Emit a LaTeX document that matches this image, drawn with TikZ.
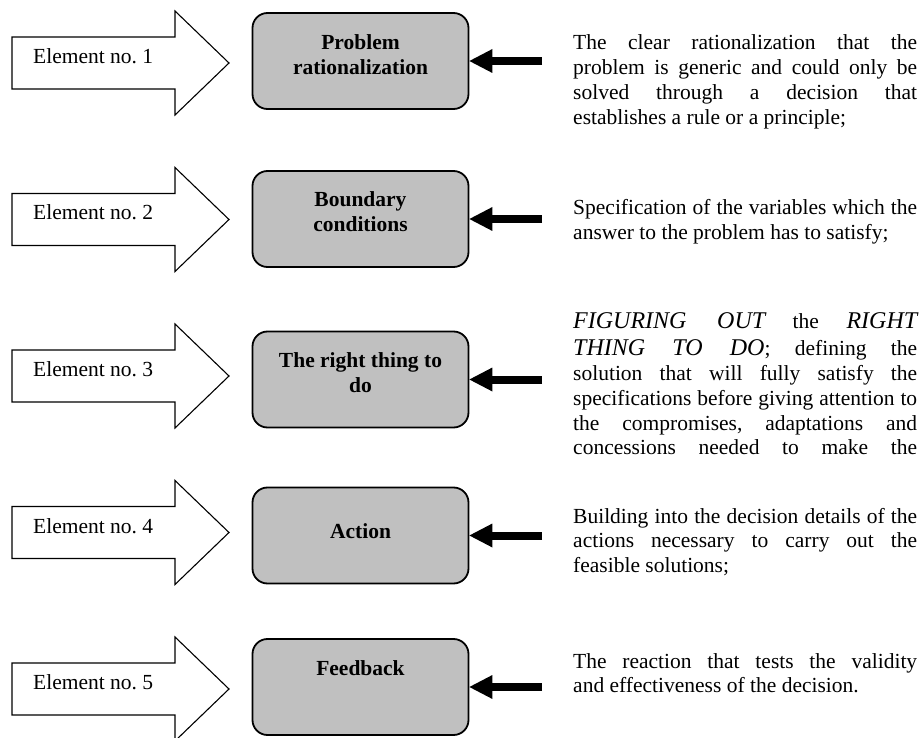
\documentclass[tikz,border=0pt]{standalone}
\usepackage{fontspec}
\setmainfont{Liberation Serif}
\usetikzlibrary{arrows.meta}
\definecolor{boxgray}{RGB}{192,192,192}
\frenchspacing
\newcommand{\jline}[1]{\makebox[344pt][s]{#1}}
\newcommand{\lastline}[1]{\makebox[344pt][l]{#1}}
\newcommand{\bigit}[1]{{\fontsize{24}{28}\selectfont\itshape #1}}
\newcommand{\boxlines}[2]{\parbox[c][96pt][t]{210pt}{\centering\rule{0pt}{#1}#2\par}}
\newcommand{\desctext}[1]{\parbox[t]{344pt}{\fontsize{21.5}{24.7}\selectfont #1}}
\begin{document}
\begin{tikzpicture}[x=1pt,y=-1pt,
  blockarrow/.style={draw, line width=1.1pt, fill=white, line join=miter},
  eltext/.style={anchor=base west, inner sep=0pt, font=\fontsize{21.5}{24.7}\selectfont},
  stepbox/.style={draw, line width=1.8pt, rounded corners=15pt, fill=boxgray,
    minimum width=216pt, minimum height=96pt, inner sep=0pt,
    font=\fontsize{21.5}{24.5}\selectfont\bfseries},
  feedarrow/.style={line width=8pt, -{Triangle[length=23pt,width=24pt,line width=0pt]}},
  desc/.style={anchor=base west, inner sep=0pt}]
\useasboundingbox (0,0) rectangle (919,738);
\fill[white] (0,0) rectangle (919,738);
\foreach \t in {63,219.5,376,532.5,689}{
  \draw[blockarrow] (12,{\t-26}) -- (175,{\t-26}) -- (175,{\t-52}) -- (229,\t)
    -- (175,{\t+52}) -- (175,{\t+26}) -- (12,{\t+26}) -- cycle;
}
\node[eltext] (e1) at (33,63.5) {Element no. 1};
\node[eltext] (e2) at (33,220) {Element no. 2};
\node[eltext] (e3) at (33,376.5) {Element no. 3};
\node[eltext] (e4) at (33,533) {Element no. 4};
\node[eltext] (e5) at (33,689.5) {Element no. 5};

\node[stepbox] (b1) at (360.5,61) {\boxlines{37pt}{Problem\\rationalization}};
\node[stepbox] (b2) at (360.5,219) {\boxlines{36pt}{Boundary\\conditions}};
\node[stepbox] (b3) at (360.5,379.5) {\boxlines{36pt}{The right thing to\\do}};
\node[stepbox] (b4) at (360.5,535.5) {\boxlines{50.5pt}{Action}};
\node[stepbox] (b5) at (360.5,687) {\boxlines{36pt}{Feedback}};

\coordinate (s1) at (542,61);
\coordinate (s2) at (542,219);
\coordinate (s3) at (542,379.5);
\coordinate (s4) at (542,535.5);
\coordinate (s5) at (542,687);
\draw[feedarrow] (s1) -- (b1.east);
\draw[feedarrow] (s2) -- (b2.east);
\draw[feedarrow] (s3) -- (b3.east);
\draw[feedarrow] (s4) -- (b4.east);
\draw[feedarrow] (s5) -- (b5.east);

\node[desc] (d1) at (573,50) {\desctext{%
  \jline{The clear rationalization that the}\\
  \jline{problem is generic and could only be}\\
  \jline{solved through a decision that}\\
  \lastline{establishes a rule or a principle;}}};
\node[desc] (d2) at (573,215) {\desctext{%
  \jline{Specification of the variables which the}\\
  \lastline{answer to the problem has to satisfy;}}};
\node[desc] (d3) at (573,328) {\desctext{%
  \jline{\bigit{FIGURING OUT} the \bigit{RIGHT}}\\[3.3pt]
  \jline{\bigit{THING TO DO}; defining the}\\
  \jline{solution that will fully satisfy the}\\
  \jline{specifications before giving attention to}\\
  \jline{the compromises, adaptations and}\\
  \jline{concessions needed to make the}}};
\node[desc] (d4) at (573,523) {\desctext{%
  \jline{Building into the decision details of the}\\
  \jline{actions necessary to carry out the}\\
  \lastline{feasible solutions;}}};
\node[desc] (d5) at (573,668) {\desctext{%
  \jline{The reaction that tests the validity}\\
  \lastline{and effectiveness of the decision.}}};
\end{tikzpicture}
\end{document}
